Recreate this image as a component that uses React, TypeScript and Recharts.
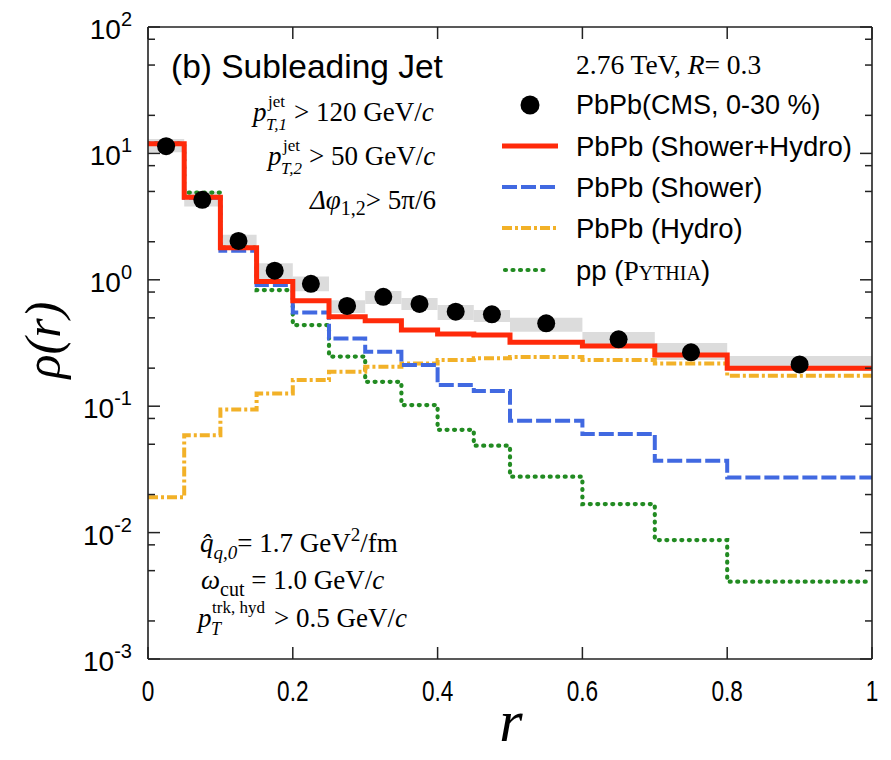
import React from 'react';
import { ComposedChart, Line, XAxis, YAxis, Scatter, ReferenceArea, Customized } from 'recharts';

// bin edges of r (last value repeated at r = 1.0)
const binEdges = [0, 0.05, 0.1, 0.15, 0.2, 0.25, 0.3, 0.35, 0.4, 0.45, 0.5, 0.6, 0.7, 0.8, 1.0];
// one value per bin (14 bins)
const showerHydro = [11.9, 4.5, 1.79, 0.97, 0.684, 0.51, 0.475, 0.401, 0.373, 0.366, 0.32, 0.299, 0.254, 0.2];
const showerOnly = [11.9, 4.45, 1.7, 0.91, 0.55, 0.344, 0.27, 0.212, 0.147, 0.132, 0.0767, 0.0602, 0.0371, 0.0273];
const hydroOnly = [0.019, 0.059, 0.094, 0.126, 0.161, 0.187, 0.205, 0.218, 0.232, 0.239, 0.245, 0.232, 0.218, 0.174];
const pythiaPP = [12.0, 4.9, 1.8, 0.83, 0.438, 0.247, 0.156, 0.102, 0.065, 0.0487, 0.0277, 0.0168, 0.00873, 0.00409];

// CMS data points
const cmsR = [0.025, 0.075, 0.125, 0.175, 0.225, 0.275, 0.325, 0.375, 0.425, 0.475, 0.55, 0.65, 0.75, 0.9];
const cmsRho = [11.4, 4.29, 2.03, 1.18, 0.93, 0.621, 0.734, 0.644, 0.56, 0.533, 0.453, 0.338, 0.267, 0.214];
const cmsSysLo = [10.2, 3.8, 1.73, 0.94, 0.81, 0.546, 0.644, 0.577, 0.481, 0.464, 0.388, 0.305, 0.232, 0.191];
const cmsSysHi = [13.0, 4.99, 2.27, 1.35, 1.06, 0.69, 0.815, 0.718, 0.632, 0.577, 0.501, 0.386, 0.316, 0.25];

// ticks
const xTicks = [0, 0.2, 0.4, 0.6, 0.8, 1];
const yTicks = [
  0.001, 0.002, 0.005, 0.008, 0.01, 0.02, 0.05, 0.08, 0.1, 0.2, 0.5, 0.8,
  1, 2, 5, 8, 10, 20, 50, 80, 100,
];
const yMajor = [0.001, 0.01, 0.1, 1, 10, 100];
const yMajorExp = ['-3', '-2', '-1', '0', '1', '2'];

const lastIdx = showerHydro.length - 1;
const stepData = binEdges.map((r, i) => ({
  r,
  sh: showerHydro[Math.min(i, lastIdx)],
  s: showerOnly[Math.min(i, lastIdx)],
  h: hydroOnly[Math.min(i, lastIdx)],
  pp: pythiaPP[Math.min(i, lastIdx)],
}));
const cmsData = cmsR.map((r, i) => ({ r, rho: cmsRho[i] }));

const FRAME = '#222';
const SANS = '"Liberation Sans", Arial, Helvetica, sans-serif';
const SERIF = '"Liberation Serif", "Times New Roman", serif';
const RED = '#ff2a0a';
const BLUE = '#4169e1';
const ORANGE = '#f2b128';
const GREEN = '#228b22';
const GREEN_DASH = '1 6.5';

const isMajor = (v: number) => yMajor.some((m) => Math.abs(m - v) / m < 1e-6);

const LeftTick = (props: any) => {
  const { x, y, payload } = props;
  const v = payload.value;
  const major = isMajor(v);
  const idx = yMajor.findIndex((m) => Math.abs(m - v) / m < 1e-6);
  return (
    <g>
      <line x1={x} x2={x + (major ? 12 : 7)} y1={y} y2={y} stroke={FRAME} strokeWidth={1.5} />
      {major && (
        <text x={x - 16} y={y + 12} textAnchor="end" fontFamily={SANS} fontSize={28} fill="#000">
          10
          <tspan fontSize={20} dy={-13}>{yMajorExp[idx]}</tspan>
        </text>
      )}
    </g>
  );
};

const RightTick = (props: any) => {
  const { x, y, payload } = props;
  const major = isMajor(payload.value);
  return <line x1={x} x2={x - (major ? 12 : 7)} y1={y} y2={y} stroke={FRAME} strokeWidth={1.5} />;
};

const BottomTick = (props: any) => {
  const { x, y, payload } = props;
  return (
    <g>
      <line x1={x} x2={x} y1={y} y2={y - 12} stroke={FRAME} strokeWidth={1.5} />
      <text
        x={0}
        y={0}
        transform={`translate(${x},${y + 42}) scale(0.78,1)`}
        textAnchor="middle"
        fontFamily={SANS}
        fontSize={29}
        fill="#000"
      >
        {String(payload.value)}
      </text>
    </g>
  );
};

const TopTick = (props: any) => {
  const { x, y } = props;
  return <line x1={x} x2={x} y1={y} y2={y + 12} stroke={FRAME} strokeWidth={1.5} />;
};

const Overlay = () => (
  <g>
    {/* axis titles */}
    <text x={0} y={0} transform="translate(60,340) rotate(-90)" textAnchor="middle" fontFamily={SERIF} fontStyle="italic" fontSize={50} fill="#000">
      ρ(r)
    </text>
    <text x={511} y={741} textAnchor="middle" fontFamily={SERIF} fontStyle="italic" fontSize={60} fill="#000">
      r
    </text>

    {/* panel title */}
    <text x={171} y={78} fontFamily={SANS} fontSize={33.5} fill="#000">(b) Subleading Jet</text>

    {/* cuts, top */}
    <text x={253} y={121} fontFamily={SERIF} fontSize={27} fontStyle="italic" fill="#000">p</text>
    <text x={268} y={107} fontFamily={SERIF} fontSize={17} fill="#000">jet</text>
    <text x={266} y={130} fontFamily={SERIF} fontSize={17} fontStyle="italic" fill="#000">T,1</text>
    <text x={294} y={121} fontFamily={SERIF} fontSize={27} fill="#000">
      &gt; 120 GeV/<tspan fontStyle="italic">c</tspan>
    </text>

    <text x={268} y={165} fontFamily={SERIF} fontSize={27} fontStyle="italic" fill="#000">p</text>
    <text x={283} y={151} fontFamily={SERIF} fontSize={17} fill="#000">jet</text>
    <text x={281} y={174} fontFamily={SERIF} fontSize={17} fontStyle="italic" fill="#000">T,2</text>
    <text x={309} y={165} fontFamily={SERIF} fontSize={27} fill="#000">
      &gt; 50 GeV/<tspan fontStyle="italic">c</tspan>
    </text>

    <text x={310} y={209} fontFamily={SERIF} fontSize={27} fill="#000">
      <tspan fontStyle="italic">Δφ</tspan>
      <tspan fontSize={20} dy={6}>1,2</tspan>
      <tspan dy={-6}>&gt; 5π/6</tspan>
    </text>

    {/* legend */}
    <text x={576} y={74} fontFamily={SERIF} fontSize={27.5} fill="#000">
      2.76 TeV, <tspan fontStyle="italic">R</tspan>= 0.3
    </text>
    <circle cx={530} cy={105} r={9.5} fill="#000" />
    <text x={576} y={114} fontFamily={SANS} fontSize={27} fill="#000">PbPb(CMS, 0-30 %)</text>

    <line x1={502} x2={558} y1={146} y2={146} stroke={RED} strokeWidth={5} />
    <text x={576} y={156} fontFamily={SANS} fontSize={27.5} fill="#000">PbPb (Shower+Hydro)</text>

    <line x1={502} x2={558} y1={187} y2={187} stroke={BLUE} strokeWidth={4} strokeDasharray="15 4" />
    <text x={576} y={197} fontFamily={SANS} fontSize={27.5} fill="#000">PbPb (Shower)</text>

    <line x1={502} x2={558} y1={228} y2={228} stroke={ORANGE} strokeWidth={4} strokeDasharray="10 3 3 3" />
    <text x={576} y={238} fontFamily={SANS} fontSize={27.5} fill="#000">PbPb (Hydro)</text>

    <line x1={505} x2={550} y1={270} y2={270} stroke={GREEN} strokeWidth={4.2} strokeDasharray={GREEN_DASH} strokeLinecap="round" />
    <text x={576} y={280} fontFamily={SANS} fontSize={27.5} fill="#000">
      pp (<tspan fontFamily={SERIF}>P</tspan><tspan fontFamily={SERIF} fontSize={20}>YTHIA</tspan>)
    </text>

    {/* parameters, bottom-left */}
    <text x={200} y={552} fontFamily={SERIF} fontSize={27} fill="#000">
      <tspan fontStyle="italic">{'q\u0302'}</tspan>
      <tspan fontSize={19} fontStyle="italic" dy={7}>q,0</tspan>
      <tspan dy={-7}>= 1.7 GeV</tspan>
      <tspan fontSize={19} dy={-11}>2</tspan>
      <tspan dy={11}>/fm</tspan>
    </text>
    <text x={201} y={589} fontFamily={SERIF} fontSize={27} fill="#000">
      <tspan fontStyle="italic">ω</tspan>
      <tspan fontSize={20} dy={7}>cut</tspan>
      <tspan dy={-7}> = 1.0 GeV/</tspan>
      <tspan fontStyle="italic">c</tspan>
    </text>
    <text x={198} y={627} fontFamily={SERIF} fontSize={27} fontStyle="italic" fill="#000">p</text>
    <text x={212} y={613} fontFamily={SERIF} fontSize={17} fill="#000">trk, hyd</text>
    <text x={211} y={635} fontFamily={SERIF} fontSize={18} fontStyle="italic" fill="#000">T</text>
    <text x={274} y={627} fontFamily={SERIF} fontSize={27} fill="#000">
      &gt; 0.5 GeV/<tspan fontStyle="italic">c</tspan>
    </text>
  </g>
);

export default function App() {
  return (
    <div style={{ position: 'absolute', left: 0, top: 0, width: 891, height: 760, background: '#fff' }}>
      <ComposedChart
        width={891}
        height={760}
        data={stepData}
        margin={{ top: 26, right: 18, bottom: 61, left: 88 }}
      >
        <XAxis
          dataKey="r"
          type="number"
          domain={[0, 1]}
          ticks={xTicks}
          allowDataOverflow
          height={40}
          tickSize={0}
          tickMargin={0}
          tickLine={false}
          axisLine={{ stroke: FRAME, strokeWidth: 1.6 }}
          tick={<BottomTick />}
          interval={0}
        />
        <XAxis
          xAxisId="top"
          orientation="top"
          dataKey="r"
          type="number"
          domain={[0, 1]}
          ticks={xTicks}
          allowDataOverflow
          height={1}
          tickSize={0}
          tickMargin={0}
          tickLine={false}
          axisLine={{ stroke: FRAME, strokeWidth: 1.6 }}
          tick={<TopTick />}
          interval={0}
        />
        <YAxis
          type="number"
          scale="log"
          domain={[0.001, 100]}
          ticks={yTicks}
          allowDataOverflow
          width={60}
          tickSize={0}
          tickMargin={0}
          tickLine={false}
          axisLine={{ stroke: FRAME, strokeWidth: 1.6 }}
          tick={<LeftTick />}
          interval={0}
        />
        <YAxis
          yAxisId="right"
          orientation="right"
          type="number"
          scale="log"
          domain={[0.001, 100]}
          ticks={yTicks}
          allowDataOverflow
          width={1}
          tickSize={0}
          tickMargin={0}
          tickLine={false}
          axisLine={{ stroke: FRAME, strokeWidth: 1.6 }}
          tick={<RightTick />}
          interval={0}
        />
        {cmsR.map((_, i) => (
          <ReferenceArea
            key={'sys' + i}
            x1={binEdges[i]}
            x2={binEdges[i + 1]}
            y1={cmsSysLo[i]}
            y2={cmsSysHi[i]}
            fill="#dcdcdc"
            fillOpacity={1}
            stroke="none"
          />
        ))}
        <Line type="stepAfter" dataKey="pp" stroke={GREEN} strokeWidth={4.2} strokeDasharray={GREEN_DASH} strokeLinecap="round" dot={false} activeDot={false} isAnimationActive={false} />
        <Line type="stepAfter" dataKey="h" stroke={ORANGE} strokeWidth={4} strokeDasharray="10 3 3 3" dot={false} activeDot={false} isAnimationActive={false} />
        <Line type="stepAfter" dataKey="s" stroke={BLUE} strokeWidth={4} strokeDasharray="15 4" dot={false} activeDot={false} isAnimationActive={false} />
        <Line type="stepAfter" dataKey="sh" stroke={RED} strokeWidth={5} dot={false} activeDot={false} isAnimationActive={false} />
        <Scatter
          data={cmsData}
          dataKey="rho"
          isAnimationActive={false}
          shape={(p: any) => <circle cx={p.cx} cy={p.cy} r={9} fill="#000" />}
        />
        <Customized component={<Overlay />} />
      </ComposedChart>
    </div>
  );
}
